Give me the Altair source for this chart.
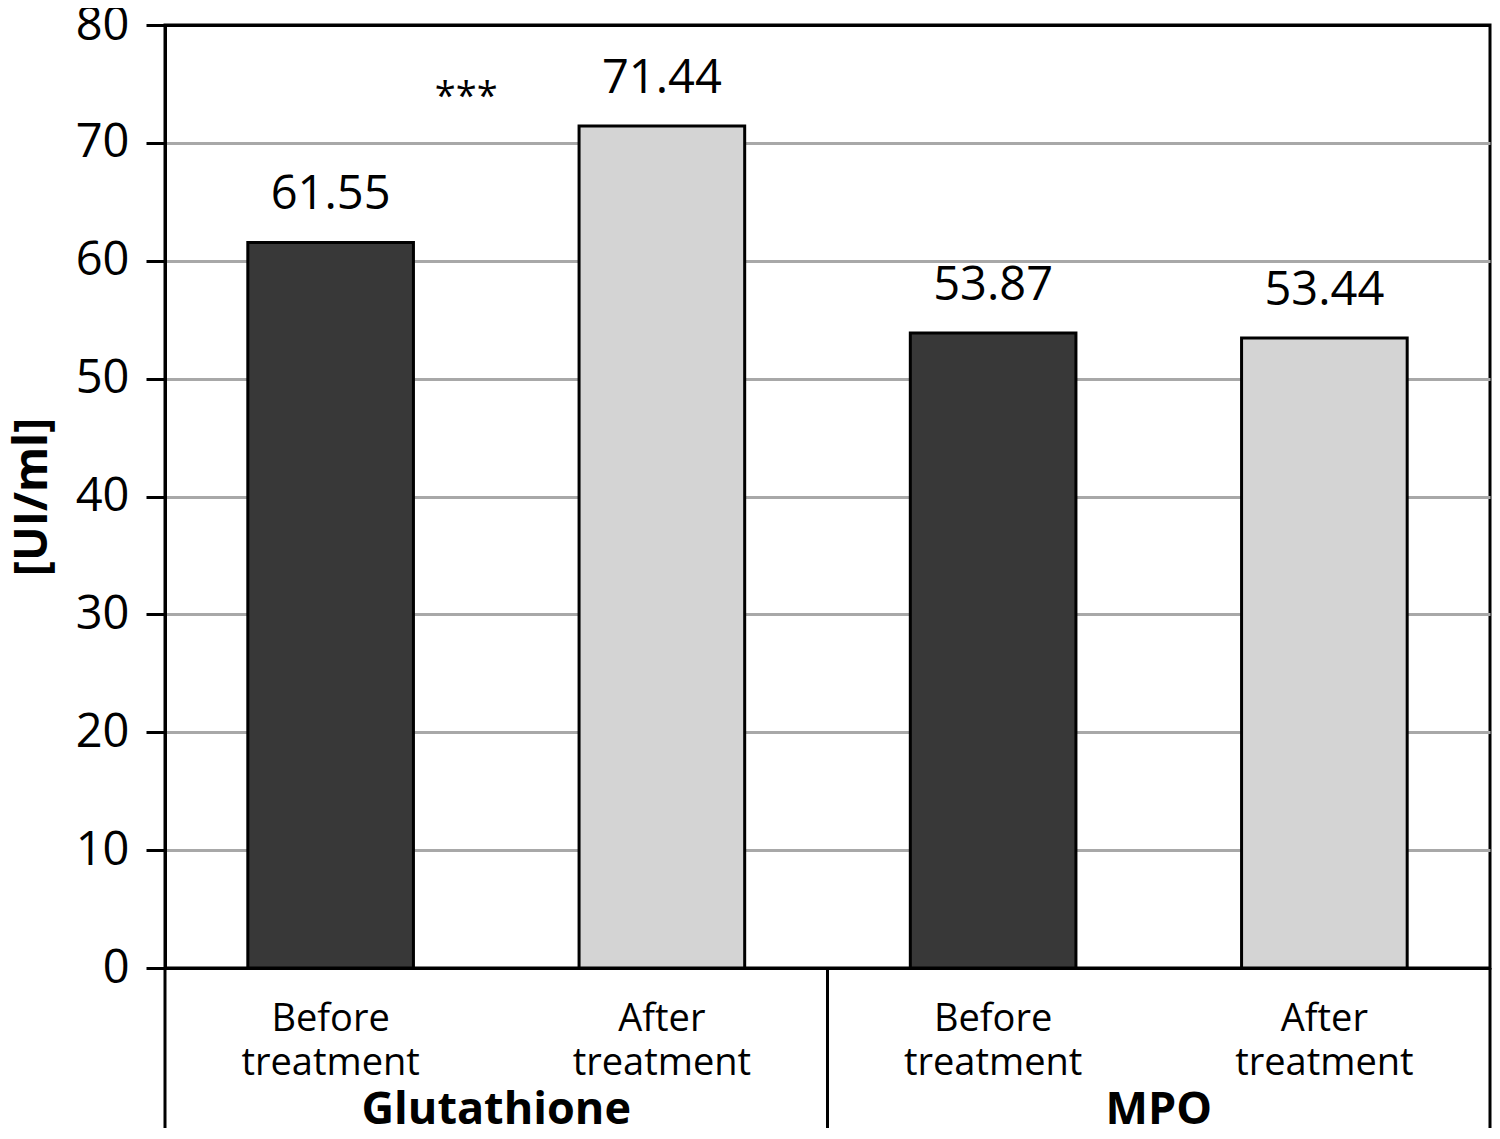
import altair as alt
import pandas as pd

# ---- data ----
groups = ["Glutathione", "Glutathione", "MPO", "MPO"]
phases = ["Before treatment", "After treatment", "Before treatment", "After treatment"]
values = [61.55, 71.44, 53.87, 53.44]
group_names = ["Glutathione", "MPO"]
significance = ["***", ""]
y_ticks = [0, 10, 20, 30, 40, 50, 60, 70, 80]
phase_order = ["Before treatment", "After treatment"]
phase_colors = ["#383838", "#d4d4d4"]

W, H = 1325, 943
FONT = "Open Sans"

bars_df = pd.DataFrame({"group": groups, "phase": phases, "value": values})
bars_df["key"] = bars_df["group"] + " | " + bars_df["phase"]
bars_df["label"] = [p.replace(" ", "\n", 1) for p in bars_df["phase"]]
groups_df = pd.DataFrame({"group": group_names, "sig": significance})

bar_scale = alt.Scale(paddingInner=0.5, paddingOuter=0.25)
x_bar = alt.X("key:N", sort=None, scale=bar_scale, axis=None)

grid_color = {
    "condition": {"test": "datum.value === 80 || datum.value === 0", "value": "black"},
    "value": "#a8a8a8",
}

y_axis = alt.Axis(
    values=y_ticks,
    title="[UI/ml]",
    titleFont=FONT,
    titleFontSize=46,
    titleFontWeight="bold",
    titleColor="black",
    titleX=-133,
    titleBaseline="middle",
    labelFont=FONT,
    labelFontSize=47,
    labelColor="black",
    labelPadding=17,
    tickSize=19,
    tickWidth=3,
    tickColor="black",
    domainColor="black",
    domainWidth=3,
    grid=True,
    gridColor=grid_color,
    gridWidth=3,
)
y_val = alt.Y("value:Q", scale=alt.Scale(domain=[0, 80], nice=False), axis=y_axis)

base = alt.Chart(bars_df)
bars = base.mark_bar(stroke="black", strokeWidth=3).encode(
    x=x_bar,
    y=y_val,
    color=alt.Color("phase:N", scale=alt.Scale(domain=phase_order, range=phase_colors), legend=None),
)
value_labels = base.mark_text(font=FONT, fontSize=47, baseline="alphabetic", dy=-33, color="black").encode(
    x=x_bar,
    y=alt.Y("value:Q"),
    text=alt.Text("value:Q", format=".2f"),
)
cat_labels = base.mark_text(
    font=FONT, fontSize=38, baseline="top", lineBreak="\n", lineHeight=44, color="black"
).encode(
    x=x_bar,
    y=alt.value(H + 33),
    text="label:N",
)

grp_scale = alt.Scale(paddingInner=0, paddingOuter=0)
gbase = alt.Chart(groups_df)
x_grp = alt.X("group:N", sort=None, scale=grp_scale, axis=None)

group_labels = gbase.mark_text(
    font=FONT, fontSize=45, fontWeight="bold", baseline="top", color="black"
).encode(x=x_grp, y=alt.value(H + 120), text="group:N")

sep_left = gbase.mark_rule(color="black", strokeWidth=3).encode(
    x=alt.X("group:N", sort=None, scale=grp_scale, axis=None, bandPosition=0),
    y=alt.value(H),
    y2=alt.value(H + 300),
)
sep_right = gbase.mark_rule(color="black", strokeWidth=3).encode(
    x=alt.X("group:N", sort=None, scale=grp_scale, axis=None, bandPosition=1),
    y=alt.value(H),
    y2=alt.value(H + 300),
)
sig_labels = gbase.mark_text(
    font=FONT, fontSize=38, baseline="alphabetic", dx=-30, color="black"
).encode(x=x_grp, y=alt.value(84), text="sig:N")

chart = (
    alt.layer(bars, value_labels, cat_labels, group_labels, sep_left, sep_right, sig_labels)
    .resolve_scale(x="independent")
    .properties(
        width=W,
        height=H,
        autosize=alt.AutoSizeParams(type="none"),
        padding={"left": 157, "top": 17, "right": 2, "bottom": 160},
        background="white",
    )
    .configure_view(stroke="black", strokeWidth=3)
)

chart.save("out.html", embed_options={"renderer": "svg", "actions": False})
